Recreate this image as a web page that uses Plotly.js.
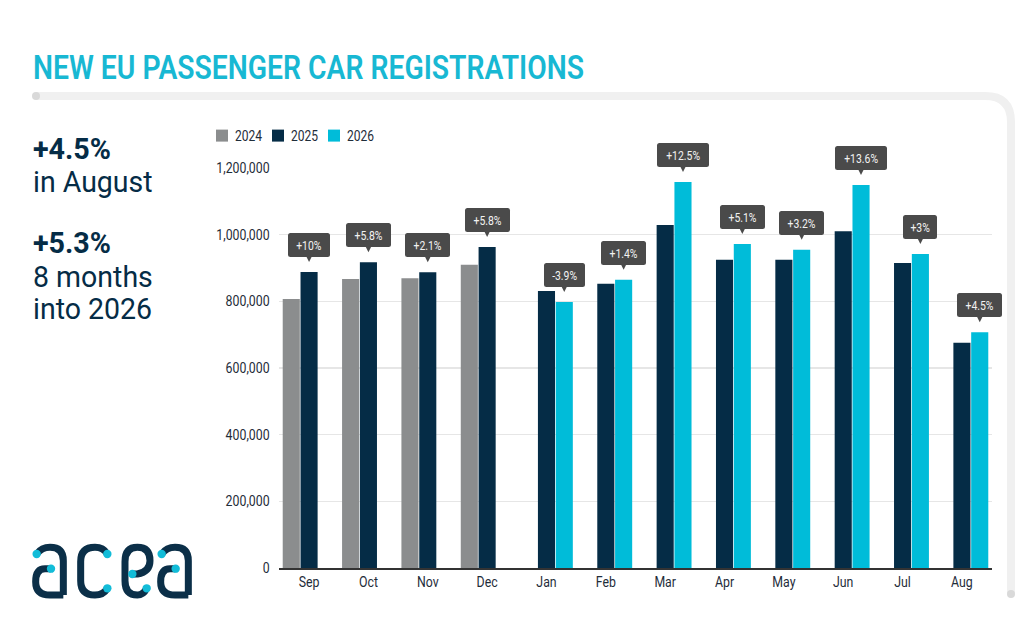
<!DOCTYPE html>
<html><head><meta charset="utf-8">
<script src="https://cdn.plot.ly/plotly-3.0.1.min.js"></script>
<style>html,body{margin:0;padding:0;background:#fff}#c{width:1024px;height:644px}</style>
</head><body><div id="c"></div>
<script>
const months=['Sep','Oct','Nov','Dec','Jan','Feb','Mar','Apr','May','Jun','Jul','Aug'];
const values2024=[807000,867000,869000,910000,null,null,null,null,null,null,null,null];
const values2025=[888000,917000,887000,963000,831000,853000,1029000,925000,925000,1010000,915000,676000];
const values2026=[null,null,null,null,798000,865000,1158000,972000,955000,1149000,942000,707000];
const changes=['+10%','+5.8%','+2.1%','+5.8%','-3.9%','+1.4%','+12.5%','+5.1%','+3.2%','+13.6%','+3%','+4.5%'];
const yTicks=[0,200000,400000,600000,800000,1000000,1200000];

const W=1024,H=644,FONT='Roboto,sans-serif';
const NAVY='#052c46',CYAN='#00bcd9',GREY='#8b8d8e',TXT='#1f2d3a';
const px=x=>x/W, py=y=>1-y/H;
const P=(pts)=>pts.map(p=>typeof p==='string'?p:(px(p[0]).toFixed(5)+','+py(p[1]).toFixed(5))).join(' ');
const lineShape=(path,color,w)=>({type:'path',xref:'paper',yref:'paper',path,line:{color,width:w},layer:'below'});
const dot=(x,y,r,color)=>({type:'circle',xref:'paper',yref:'paper',x0:px(x-r),x1:px(x+r),y0:py(y+r),y1:py(y-r),fillcolor:color,line:{width:0},layer:'above'});

/* logo geometry is written in a local grid */
const L=(x,y)=>[x/3,520+y/3];
const seg=(...a)=>{let out=[];a.forEach(s=>{if(s[0]==='M'||s[0]==='L'){out.push(s[0]+P([L(s[1],s[2])]))}else{out.push('Q'+P([L(s[1],s[2])])+' '+P([L(s[3],s[4])]))}});return out.join(' ')};
const logoPaths=[
 seg(['M',110,102],['Q',125,82,150,82],['Q',190,82,190,122],['L',190,225]),
 seg(['M',153,146],['L',135,146],['Q',107,146,107,185],['Q',107,225,150,225],['L',190,225]),
 seg(['M',322,102],['Q',310,82,285,82],['Q',242,82,242,125],['L',242,182],['Q',242,225,285,225],['Q',310,225,322,205]),
 seg(['M',397,162],['L',412,162],['Q',450,155,450,122],['Q',450,82,412,82],['Q',375,82,375,125],['L',375,182],['Q',375,225,412,225],['Q',430,225,440,205]),
 seg(['M',485,102],['Q',500,82,525,82],['Q',565,82,565,122],['L',565,225]),
 seg(['M',527,146],['L',510,146],['Q',482,146,482,185],['Q',482,225,525,225],['L',565,225])
];
const logoDots=[[110,102],[153,146],[322,102],[322,205],[397,162],[440,205],[485,102],[527,146]];

const shapes=[
 lineShape('M'+P([[36,96]])+' L'+P([[985,96]])+' Q'+P([[1011,96]])+' '+P([[1011,122]])+' L'+P([[1011,594]]),'#f0f0f0',8),
 dot(36,96,4,'#d9d9d9'),dot(1011,594,4,'#d9d9d9'),
 ...logoPaths.map(p=>({...lineShape(p,'#0b2f48',7),layer:'above'})),
 ...logoDots.map(d=>{const q=L(d[0],d[1]);return dot(q[0],q[1],4.2,'#12bcd8')})
];

const freeText=(text,x,y,size,color,weight)=>({xref:'paper',yref:'paper',x:px(x),y:py(y),xanchor:'left',yanchor:'middle',showarrow:false,text,align:'left',font:{family:FONT,size,color,weight:weight||400}});
const labels=changes.map((t,i)=>{
  const has26=values2026[i]!==null;
  return {xref:'x',yref:'y',x:i+(has26?0.3:0),y:has26?values2026[i]:values2025[i],text:t,showarrow:true,
   axref:'pixel',ayref:'pixel',ax:0,ay:-15,yanchor:'bottom',xanchor:'center',standoff:10,arrowhead:2,arrowsize:1.4,arrowwidth:1.5,arrowcolor:'#4a4a4a',
   bgcolor:'#4a4a4a',bordercolor:'#4a4a4a',borderwidth:0,borderpad:5,height:14,font:{family:FONT,size:13,color:'#f2f2f2'}};
});
const annotations=[
 freeText('NEW EU PASSENGER CAR REGISTRATIONS',30.5,67,34,'#18b8d3',600),
 freeText('+4.5%',31,149,30,NAVY,700),
 freeText('in August',31,182,30,NAVY),
 freeText('+5.3%',31,243,30,NAVY,700),
 freeText('8 months',31,276,30,NAVY),
 freeText('into 2026',31,308,30,NAVY),
 ...labels
];

const bar=(name,y,color)=>({type:'bar',name,x:months,y,marker:{color,line:{width:0}},hoverinfo:'skip'});
const data=[bar('2024',values2024,GREY),bar('2025',values2025,NAVY),bar('2026',values2026,CYAN)];
const layout={
 width:W,height:H,margin:{l:0,r:0,t:0,b:0},paper_bgcolor:'#fff',plot_bgcolor:'#fff',
 barmode:'group',bargap:0.1,bargroupgap:0.04,
 font:{family:FONT,size:14,color:TXT},
 xaxis:{domain:[279.4/W,991.6/W],type:'category',categoryorder:'array',categoryarray:months,range:[-0.5,11.5],ticks:'outside',ticklen:1,tickcolor:'rgba(0,0,0,0)',showgrid:false,showline:true,linecolor:'#333',linewidth:1.5,zeroline:false,tickfont:{family:FONT,size:14,color:TXT},fixedrange:true},
 yaxis:{domain:[1-568/H,1-168/H],range:[0,1200000],tickvals:yTicks,tickformat:',',ticks:'outside',ticklen:6,tickcolor:'rgba(0,0,0,0)',showgrid:true,gridcolor:'#e6e6e6',gridwidth:1.5,zeroline:false,showline:false,tickfont:{family:FONT,size:14,color:TXT},fixedrange:true},
 legend:{orientation:'h',x:202/W,y:py(120),xanchor:'left',yanchor:'top',traceorder:'normal',entrywidth:11,entrywidthmode:'pixels',font:{family:FONT,size:14,color:TXT},bgcolor:'rgba(0,0,0,0)',itemclick:false,itemdoubleclick:false},
 shapes,annotations
};
const squeeze=(el,r)=>{const n=el.getComputedTextLength();el.setAttribute('textLength',(n*r).toFixed(1));el.setAttribute('lengthAdjust','spacingAndGlyphs')};
Plotly.newPlot('c',data,layout,{displayModeBar:false,staticPlot:true}).then(gd=>{
  gd.querySelectorAll('.annotation rect.bg').forEach(r=>{r.setAttribute('rx',2.5);r.setAttribute('ry',2.5)});
  gd.querySelectorAll('.legend .scrollbox').forEach(b=>b.removeAttribute('clip-path'));
  gd.querySelectorAll('.legendtext').forEach(t=>{t.setAttribute('x',+t.getAttribute('x')-7);squeeze(t,0.86)});
  gd.querySelectorAll('.xtick text,.ytick text').forEach(t=>squeeze(t,0.88));
  gd.querySelectorAll('.annotation-text').forEach((t,i)=>{
    if(i===0){squeeze(t,551/t.getComputedTextLength())}
    else if(i===1||i===3) squeeze(t,0.955);
    else if(i<=5) squeeze(t,0.95);
    else squeeze(t,0.8);
  });
});
</script></body></html>
